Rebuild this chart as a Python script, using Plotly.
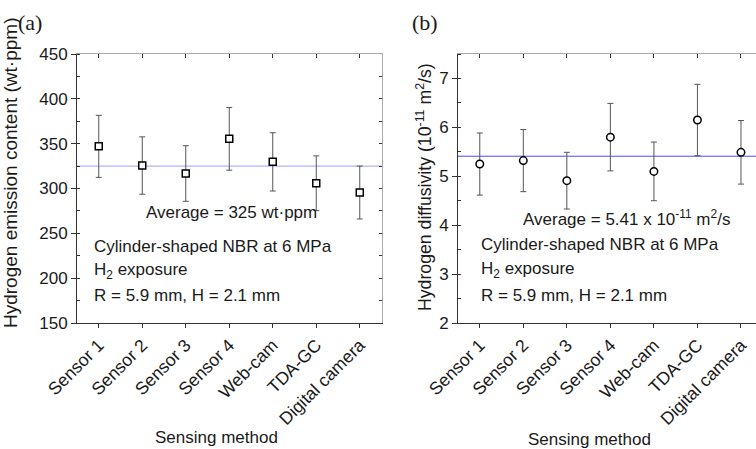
import plotly.graph_objects as go

categories = ["Sensor 1", "Sensor 2", "Sensor 3", "Sensor 4", "Web-cam", "TDA-GC", "Digital camera"]
emission = [347, 325.6, 316.7, 355.4, 329.7, 305.9, 295.5]
emission_err = [34.6, 32, 31, 35, 32.5, 30.5, 29.5]
emission_avg = 325
diffusivity = [5.25, 5.32, 4.91, 5.80, 5.10, 6.15, 5.49]
diffusivity_err = [0.635, 0.635, 0.58, 0.69, 0.60, 0.73, 0.65]
diffusivity_avg = 5.41
y_ticks_a = [150, 200, 250, 300, 350, 400, 450]
y_ticks_b = [2, 3, 4, 5, 6, 7]

W, H = 756, 449
def fx(px):
    return px / W
def fy(py):
    return 1 - py / H

FONT = "Liberation Sans, Arial, sans-serif"
TXT = "#1a1a1a"
AX = "#333333"
LIGHT = "#a8a8b0"

dom_y = [fy(323), fy(54)]
dom_xa = [fx(77), fx(381.5)]
dom_xb = [fx(458), 1.0]

fig = go.Figure()

# panel (a)
fig.add_trace(go.Scatter(
    x=categories, y=emission, mode="markers", xaxis="x", yaxis="y",
    marker=dict(symbol="square", size=7, color="white", line=dict(color="black", width=1.5)),
    error_y=dict(type="data", array=emission_err, color="#555555", thickness=1, width=3),
    showlegend=False))
# panel (b)
fig.add_trace(go.Scatter(
    x=categories, y=diffusivity, mode="markers", xaxis="x2", yaxis="y2",
    marker=dict(symbol="circle", size=7.5, color="white", line=dict(color="black", width=1.5)),
    error_y=dict(type="data", array=diffusivity_err, color="#555555", thickness=1, width=3),
    showlegend=False))
# dummy traces for mirror-side tick axes
fig.add_trace(go.Scatter(x=categories, y=[None]*len(categories), xaxis="x3", yaxis="y", showlegend=False, hoverinfo="skip"))
fig.add_trace(go.Scatter(x=categories, y=[None]*len(categories), xaxis="x", yaxis="y3", showlegend=False, hoverinfo="skip"))
fig.add_trace(go.Scatter(x=categories, y=[None]*len(categories), xaxis="x4", yaxis="y2", showlegend=False, hoverinfo="skip"))

tickfont = dict(family=FONT, size=17, color=TXT)
xtickfont = dict(family=FONT, size=17.6, color=TXT)
xcommon = dict(type="category", categoryorder="array", categoryarray=categories,
               tickangle=-45, tickfont=xtickfont, showgrid=False, zeroline=False, automargin=False)

fig.update_layout(
    width=W, height=H, margin=dict(l=0, r=0, t=0, b=0, autoexpand=False),
    paper_bgcolor="white", plot_bgcolor="white",
    xaxis=dict(domain=dom_xa, anchor="y", range=[-0.5, 6.5], showline=True, linecolor=AX, linewidth=1,
               ticks="outside", ticklen=4, tickcolor=AX, **xcommon),
    yaxis=dict(domain=dom_y, anchor="x", range=[150, 450], tickvals=y_ticks_a, showline=True, linecolor=AX,
               linewidth=1, ticks="outside", ticklen=5, tickcolor=AX, tickfont=tickfont, showgrid=False,
               zeroline=False, automargin=False,
               minor=dict(ticks="inside", ticklen=3, dtick=25, tickcolor=AX, showgrid=False)),
    xaxis2=dict(domain=dom_xb, anchor="y2", range=[-0.5, 6.345], showline=True, linecolor=AX, linewidth=1,
                ticks="outside", ticklen=4, tickcolor=AX, **xcommon),
    yaxis2=dict(domain=dom_y, anchor="x2", range=[2, 7.5], tickvals=y_ticks_b, showline=True, linecolor=AX,
                linewidth=1, ticks="outside", ticklen=5, tickcolor=AX, tickfont=tickfont, showgrid=False,
                zeroline=False, automargin=False,
                minor=dict(ticks="inside", ticklen=3, dtick=0.5, tickcolor=AX, showgrid=False)),
    xaxis3=dict(overlaying="x", anchor="y", side="top", type="category", categoryorder="array",
                categoryarray=categories, range=[-0.5, 6.5], showline=True, linecolor=LIGHT, linewidth=1,
                ticks="inside", ticklen=4, tickcolor=AX, showticklabels=False, showgrid=False, zeroline=False,
                automargin=False),
    yaxis3=dict(overlaying="y", anchor="x", side="right", range=[150, 450], tickvals=y_ticks_a, showline=True,
                linecolor=LIGHT, linewidth=1, ticks="inside", ticklen=3, tickcolor=AX, showticklabels=False,
                showgrid=False, zeroline=False, automargin=False,
                minor=dict(ticks="inside", ticklen=3, dtick=25, tickcolor=AX)),
    xaxis4=dict(overlaying="x2", anchor="y2", side="top", type="category", categoryorder="array",
                categoryarray=categories, range=[-0.5, 6.345], showline=True, linecolor=LIGHT, linewidth=1,
                ticks="inside", ticklen=4, tickcolor=AX, showticklabels=False, showgrid=False, zeroline=False,
                automargin=False),
)

fig.add_shape(type="line", xref="x domain", yref="y", x0=0, x1=1, y0=emission_avg, y1=emission_avg,
              line=dict(color="#a0a0ff", width=1), layer="below")
fig.add_shape(type="line", xref="x2 domain", yref="y2", x0=0, x1=1, y0=diffusivity_avg, y1=diffusivity_avg,
              line=dict(color="#4a4aff", width=1), layer="below")

def ann(text, px, py, size=17, xanchor="left", family=FONT, angle=0):
    fig.add_annotation(text=text, x=fx(px), y=fy(py), xref="paper", yref="paper",
                       xanchor=xanchor, yanchor="middle", showarrow=False, textangle=angle,
                       font=dict(family=family, size=size, color=TXT))

# panel labels
ann("(a)", 16, 23, size=22, family="Liberation Serif, Times New Roman, serif")
ann("(b)", 410, 23, size=22, family="Liberation Serif, Times New Roman, serif")

# panel (a) texts
ann("Average = 325 wt·ppm", 144, 212)
ann("Cylinder-shaped NBR at 6 MPa", 92, 246)
ann("H<sub>2</sub> exposure", 92, 271)
ann("R = 5.9 mm, H = 2.1 mm", 92, 295)
ann("Hydrogen emission content (wt·ppm)", 10, 173, size=19, xanchor="center", angle=-90)
ann("Sensing method", 216, 437, xanchor="center")

# panel (b) texts
ann("Average = 5.41 x 10<sup>-11</sup> m<sup>2</sup>/s", 521, 218)
ann("Cylinder-shaped NBR at 6 MPa", 479, 245)
ann("H<sub>2</sub> exposure", 479, 270)
ann("R = 5.9 mm, H = 2.1 mm", 479, 295)
ann("Hydrogen diffusivity (10<sup>-11</sup> m<sup>2</sup>/s)", 424, 187, size=17.7, xanchor="center", angle=-90)
ann("Sensing method", 589, 439, xanchor="center")

fig.write_html("out.html", config={"displayModeBar": False},
               post_script="document.body.style.margin='0px';document.body.style.overflow='hidden';")
